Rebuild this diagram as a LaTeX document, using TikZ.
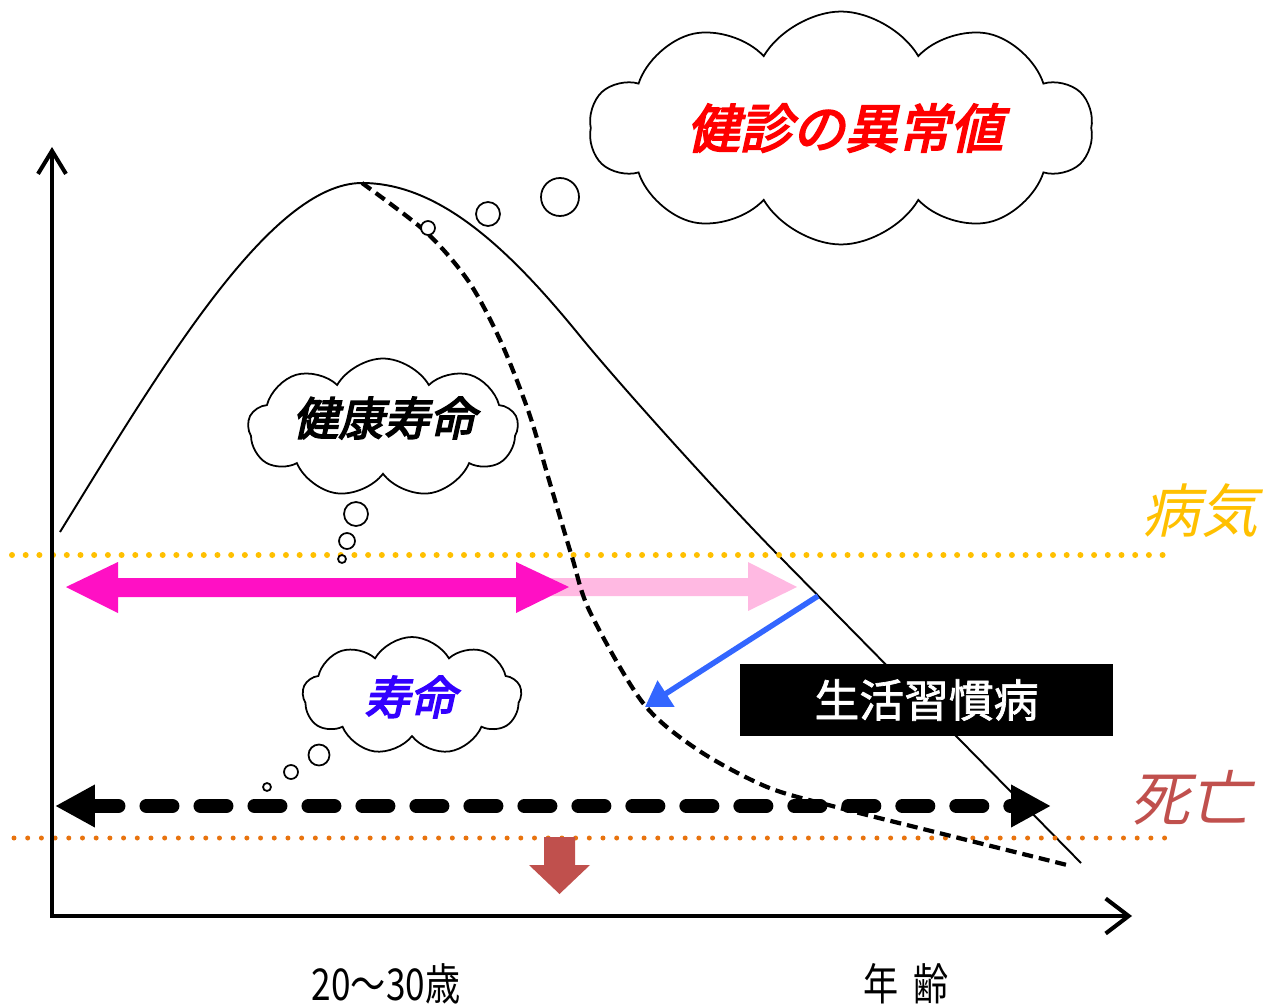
\documentclass[tikz,border=0pt]{standalone}
\usepackage{fontspec}
\newfontfamily\jp{Noto Sans CJK JP}
\newfontfamily\jpbi{Noto Sans CJK JP}[FakeBold=3.5,FakeSlant=0.22]
\newfontfamily\jpi{Noto Sans CJK JP}[FakeSlant=0.22]
\newfontfamily\jpb{Noto Sans CJK JP}[FakeBold=1.6]
\newfontfamily\jpc{Noto Sans CJK JP}[FakeStretch=0.8]
\usetikzlibrary{arrows.meta,shapes.symbols}
\definecolor{cyel}{HTML}{FFC000}
\definecolor{corg}{HTML}{E8730E}
\definecolor{cmag}{HTML}{FF10C4}
\definecolor{cpink}{HTML}{FFB9E2}
\definecolor{cblue}{HTML}{3366FF}
\definecolor{cred}{HTML}{C0504D}
\definecolor{cvio}{HTML}{3300FF}
\definecolor{cjred}{HTML}{FF0000}
\begin{document}
\begin{tikzpicture}[x=0.02cm,y=-0.02cm,
  cloudbox/.style={cloud, cloud puffs=10, cloud puff arc=120, cloud ignores aspect, draw=black, line width=1pt, fill=white, inner sep=0pt},
  bubble/.style={circle, draw=black, line width=1pt, fill=white, inner sep=0pt},
  curveline/.style={line width=1.1pt},
  dashcurve/.style={line width=2.4pt, dash pattern=on 0.22cm off 0.12cm},
  dotline/.style={line width=0.12cm, line cap=round, dash pattern=on 0pt off 0.274cm},
  axisline/.style={line width=2.3pt, line join=miter},
  cloudtext/.style={inner sep=0pt},
]
\useasboundingbox (0,0) rectangle (1272,1007);

% curves
\coordinate (cs) at (60,532); \coordinate (peak) at (362,183);
\coordinate (cm) at (580,336); \coordinate (cb) at (780,557); \coordinate (ce) at (1081,863);
\draw[curveline] (cs) .. controls (160,370) and (270,183) .. (peak)
  .. controls (440,183) and (510,250) .. (cm)
  .. controls (620,385) and (720,496) .. (cb) -- (ce);

% dotted lines
\coordinate (yl1) at (12,555); \coordinate (yl2) at (1172,555);
\coordinate (ol1) at (14,838); \coordinate (ol2) at (1172,838);
\draw[dotline, cyel] (yl1) -- (yl2);
\draw[dotline, corg, line width=0.1cm] (ol1) -- (ol2);

% pink and magenta block arrows
\fill[cpink] (540,578) -- (748,578) -- (748,562) -- (797,587) -- (748,611) -- (748,596) -- (540,596) -- cycle;
\fill[cmag] (66,587) -- (118,562) -- (118,578) -- (516,578) -- (516,562) -- (569,587) -- (516,613) -- (516,597) -- (118,597) -- (118,613) -- cycle;

% dashed curve
\draw[dashcurve] plot[smooth, tension=0.5] coordinates {(362,183) (426,232) (469,282) (501,342) (529,413) (549,480) (572,557) (590,612) (643,703) (698,750) (767,787) (836,807) (939,833) (1067,865)};

% black dashed double arrow
\coordinate (dl) at (55,806); \coordinate (dr) at (1051,806);
\draw[line width=0.28cm, line cap=round, dash pattern=on 0.52cm off 0.56cm,
  {Triangle[length=0.8cm,width=0.8cm]}-{Triangle[length=0.8cm,width=0.8cm]}] (dl) -- (dr);

% red down arrow
\fill[cred] (544,837) -- (575,837) -- (575,865) -- (590,865) -- (559.5,894) -- (529,865) -- (544,865) -- cycle;

% axes
\coordinate (ytop) at (52,147); \coordinate (O) at (52,916); \coordinate (xend) at (1132,916);
\draw[axisline, {Straight Barb[length=0.46cm,width=0.56cm]}-{Straight Barb[length=0.46cm,width=0.7cm]}] (ytop) -- (O) -- (xend);

% blue arrow
\coordinate (bs) at (818,596); \coordinate (be) at (645,707);
\draw[cblue, line width=0.11cm, -{Triangle[length=0.5cm,width=0.6cm]}] (bs) -- (be);

% black box
\node[fill=black, minimum width=7.46cm, minimum height=1.44cm, inner sep=0pt,
  text=white, font={\jpb\fontsize{25.5pt}{30pt}\selectfont}] (lifestyle) at (926.5,700) {生活習慣病};

% cloud 1
\node[cloudbox, minimum width=10.06cm, minimum height=4.66cm] (c1) at (841,128) {};
\node[cloudtext, text=cjred, font={\jpbi\fontsize{30pt}{36pt}\selectfont}] (t1) at (845,128) {健診の異常値};
\node[bubble, minimum size=0.76cm] (b11) at (560,197) {};
\node[bubble, minimum size=0.48cm] (b12) at (488,214) {};
\node[bubble, minimum size=0.28cm] (b13) at (428,228) {};

% cloud 2
\node[cloudbox, cloud puffs=9, minimum width=5.4cm, minimum height=2.78cm] (c2) at (383,428) {};
\node[cloudtext, text=black, font={\jpbi\fontsize{26pt}{30pt}\selectfont}] (t2) at (384,418) {健康寿命};
\node[bubble, minimum size=0.48cm] (b21) at (356,514) {};
\node[bubble, minimum size=0.32cm] (b22) at (347,541) {};
\node[bubble, minimum size=0.16cm] (b23) at (342,559) {};

% cloud 3
\node[cloudbox, cloud puffs=9, minimum width=4.38cm, minimum height=2.36cm] (c3) at (412,696) {};
\node[cloudtext, text=cvio, font={\jpbi\fontsize{26pt}{30pt}\selectfont}] (t3) at (410,697) {寿命};
\node[bubble, minimum size=0.42cm] (b31) at (319,755) {};
\node[bubble, minimum size=0.28cm] (b32) at (291,772) {};
\node[bubble, minimum size=0.16cm] (b33) at (267,787) {};

% side labels
\node[text=cyel, font={\jpi\fontsize{33pt}{38pt}\selectfont}] (sick) at (1200,511) {病気};
\node[text=cred, font={\jpi\fontsize{34pt}{38pt}\selectfont}] (death) at (1190,798) {死亡};

% axis labels
\node[font={\jpc\fontsize{25pt}{28pt}\selectfont}] (age2030) at (386,984) {20〜30歳};
\node[font={\jpc\fontsize{25pt}{28pt}\selectfont}] (agelbl) at (906,984) {年\hspace{0.35em}齢};
\end{tikzpicture}
\end{document}
